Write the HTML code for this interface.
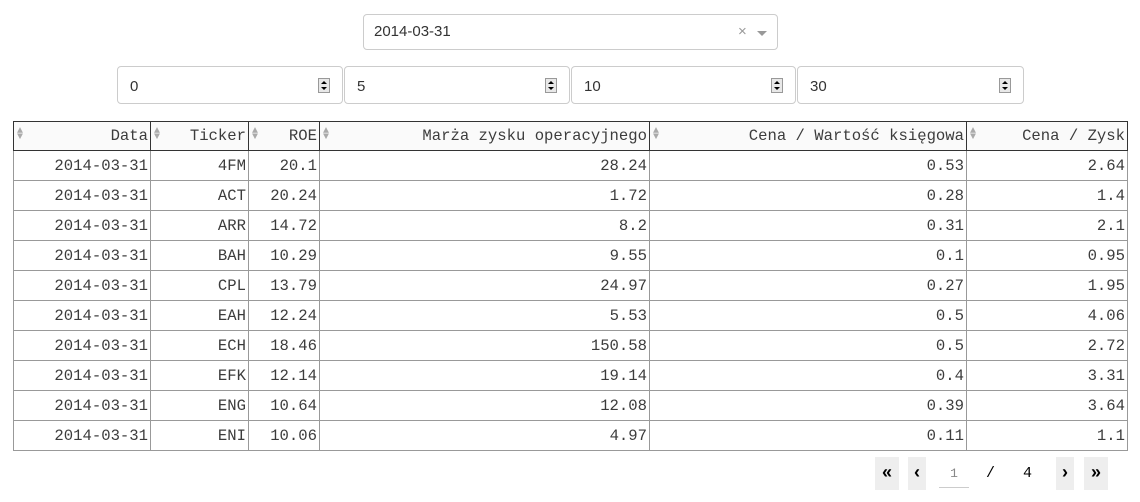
<!DOCTYPE html>
<html><head><meta charset="utf-8"><style>
body{margin:0;width:1140px;height:502px;background:#fff;font-family:"Liberation Sans",sans-serif;position:relative;overflow:hidden}
.box{position:absolute;border:1px solid #ccc;border-radius:4px;box-sizing:border-box;background:#fff;font-size:15px;color:#333}
.spin{position:absolute;right:12px;top:11px;width:12px;height:15px;border:1px solid #999;background:#e8e8e8;box-sizing:border-box}
.spin:before{content:"";position:absolute;left:2px;top:2px;border:3px solid transparent;border-bottom:3px solid #000;border-top:none}
.spin:after{content:"";position:absolute;left:2px;top:8px;border:3px solid transparent;border-top:3px solid #000;border-bottom:none}
table{position:absolute;left:13px;top:121px;border-collapse:collapse;font-family:"Liberation Mono",monospace;font-size:15.6px;color:#3c3c3c}
td,th{border:1px solid #999;padding:0 2px 0 0;text-align:right;font-weight:normal;box-sizing:border-box;position:relative;white-space:nowrap}
th{background:#fafafa;border-color:#333;border-bottom:1px solid #333}
th .s{position:absolute;left:3px;top:7px;color:#aaa;font-size:10px;line-height:6px}
.pb{position:absolute;top:457px;height:33px;background:#eee;font-weight:bold;font-size:18px;text-align:center;line-height:31px}
</style></head><body>
<div class="box" style="left:363px;top:14px;width:415px;height:36px">
<span style="position:absolute;left:10px;top:8px">2014-03-31</span>
<span style="position:absolute;left:374px;top:8px;color:#999">×</span>
<span style="position:absolute;left:393px;top:16px;border:5px solid transparent;border-top:5px solid #999;border-bottom:none"></span>
</div>
<div class="box" style="left:117px;top:66px;width:226px;height:38px"><span style="position:absolute;left:12px;top:11px">0</span><div class="spin"></div></div>
<div class="box" style="left:344px;top:66px;width:226px;height:38px"><span style="position:absolute;left:12px;top:11px">5</span><div class="spin"></div></div>
<div class="box" style="left:571px;top:66px;width:225px;height:38px"><span style="position:absolute;left:12px;top:11px">10</span><div class="spin"></div></div>
<div class="box" style="left:797px;top:66px;width:227px;height:38px"><span style="position:absolute;left:12px;top:11px">30</span><div class="spin"></div></div>
<table>
<tr style="height:29px">
<th style="width:137px"><span class="s">▲<br>▼</span>Data</th>
<th style="width:98px"><span class="s">▲<br>▼</span>Ticker</th>
<th style="width:71px"><span class="s">▲<br>▼</span>ROE</th>
<th style="width:330px"><span class="s">▲<br>▼</span>Marża zysku operacyjnego</th>
<th style="width:317px"><span class="s">▲<br>▼</span>Cena / Wartość księgowa</th>
<th style="width:161px"><span class="s">▲<br>▼</span>Cena / Zysk</th>
</tr>
<tbody id="tb"></tbody>
</table>
<div class="pb" style="left:875px;width:24px">«</div>
<div class="pb" style="left:908px;width:18px">‹</div>
<div style="position:absolute;left:939px;top:466px;width:30px;height:21px;border-bottom:1px solid #ccc;text-align:center;font-family:'Liberation Mono',monospace;font-size:13px;color:#888">1</div>
<div style="position:absolute;left:986px;top:465px;font-family:'Liberation Mono',monospace;font-size:15px">/</div>
<div style="position:absolute;left:1023px;top:465px;font-family:'Liberation Mono',monospace;font-size:15px">4</div>
<div class="pb" style="left:1056px;width:18px">›</div>
<div class="pb" style="left:1084px;width:24px">»</div>
<script>
const tickers=["4FM","ACT","ARR","BAH","CPL","EAH","ECH","EFK","ENG","ENI"];
const roe=["20.1","20.24","14.72","10.29","13.79","12.24","18.46","12.14","10.64","10.06"];
const margin=["28.24","1.72","8.2","9.55","24.97","5.53","150.58","19.14","12.08","4.97"];
const pb=["0.53","0.28","0.31","0.1","0.27","0.5","0.5","0.4","0.39","0.11"];
const pe=["2.64","1.4","2.1","0.95","1.95","4.06","2.72","3.31","3.64","1.1"];
const tb=document.getElementById('tb');
tickers.forEach((t,i)=>{
const tr=document.createElement('tr');


tr.style.height='30px';
["2014-03-31",t,roe[i],margin[i],pb[i],pe[i]].forEach(v=>{
const td=document.createElement('td');


td.textContent=v;tr.appendChild(td);});
tb.appendChild(tr);});
</script>
</body></html>
